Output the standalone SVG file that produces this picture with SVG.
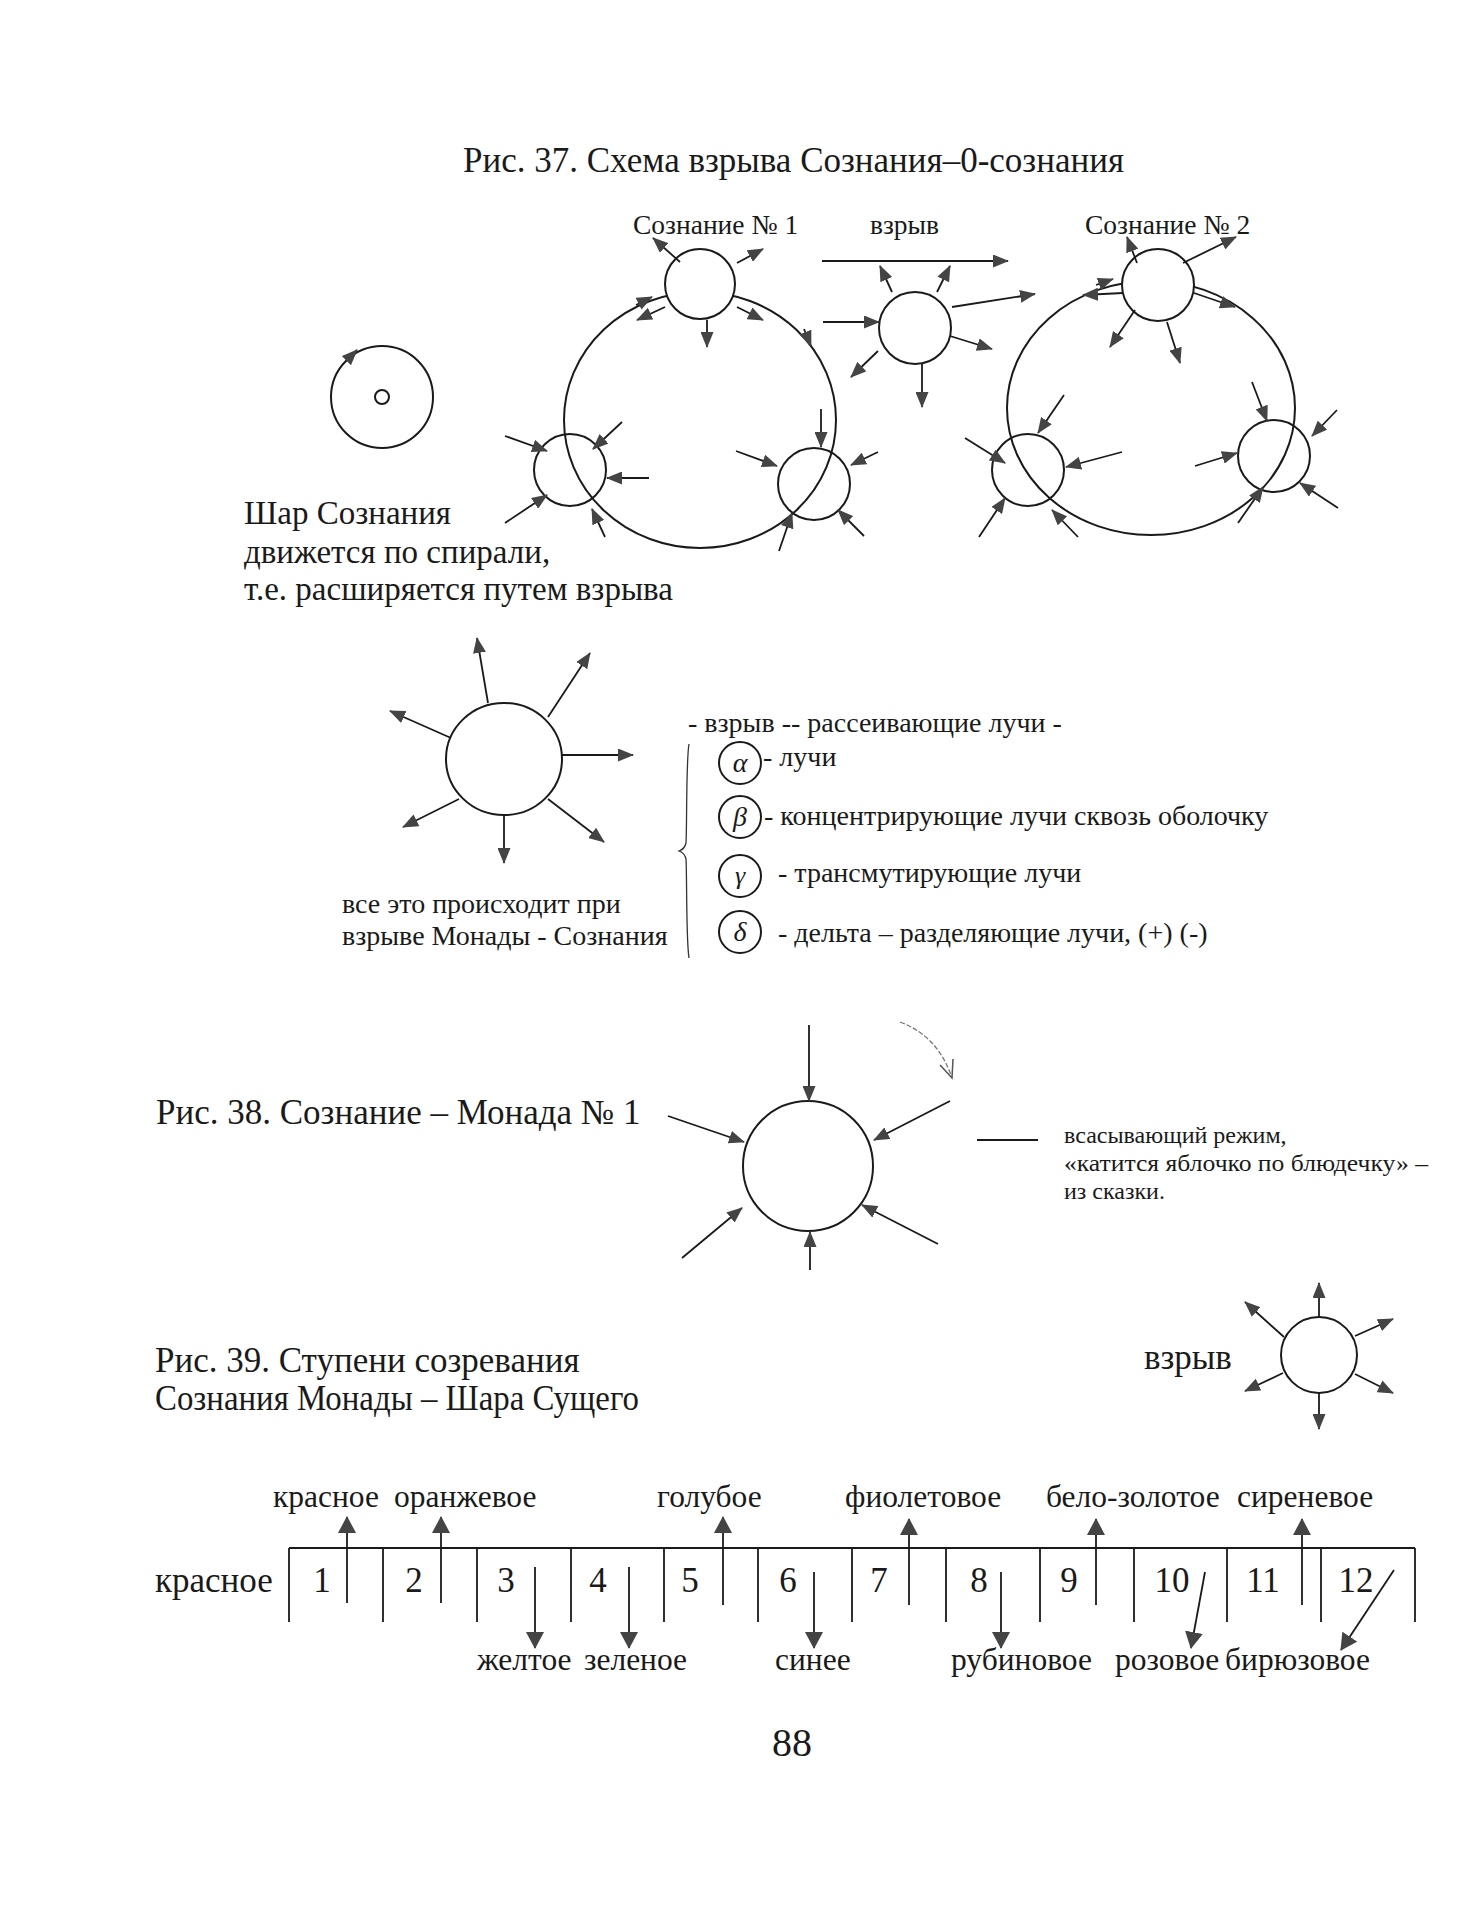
<svg xmlns="http://www.w3.org/2000/svg" width="1482" height="1920" viewBox="0 0 1482 1920">
<defs>
<style>
text{font-family:"Liberation Serif","Times New Roman",serif;fill:#1a1a1a}
.ln{stroke:#1a1a1a;stroke-width:1.8;fill:none}
.c{stroke:#1a1a1a;stroke-width:2;fill:none}
.cw{stroke:#1a1a1a;stroke-width:2;fill:#fff}
.a{stroke:#1a1a1a;stroke-width:1.8;fill:none;marker-end:url(#ah)}
.aL{stroke:#1a1a1a;stroke-width:1.8;fill:none;marker-end:url(#ahL)}
.t35{font-size:35px}
.t33{font-size:33px}
.t31{font-size:31.5px}
.t28{font-size:28px}
.t27{font-size:27.5px}
.t25{font-size:24px}
</style>
<marker id="ah" viewBox="0 0 16 13" refX="15" refY="6.5" markerWidth="16" markerHeight="13" markerUnits="userSpaceOnUse" orient="auto"><path d="M0,0 L16,6.5 L0,13 z" fill="#444"/></marker>
<marker id="ahL" viewBox="0 0 17 18" refX="16" refY="9" markerWidth="17" markerHeight="18" markerUnits="userSpaceOnUse" orient="auto"><path d="M0,0 L17,9 L0,18 z" fill="#444"/></marker>
</defs>
<rect width="1482" height="1920" fill="#fff"/>

<!-- Figure 37 -->
<text id="title37" class="t35" x="463" y="172">Рис. 37. Схема взрыва Сознания–0-сознания</text>

<g id="shar">
<circle class="c" cx="382" cy="397" r="51"/>
<circle class="c" cx="382" cy="397" r="7"/>
</g>
<g id="shar-label">
<text class="t33" x="244" y="524">Шар Сознания</text>
<text class="t33" x="244" y="563">движется по спирали,</text>
<text class="t33" x="244" y="600">т.е. расширяется путем взрыва</text>
</g>

<g id="orbit1"><ellipse class="c" cx="700" cy="420" rx="136" ry="128"/></g>
<g id="orbit2"><ellipse class="c" cx="1151" cy="408" rx="144" ry="127"/></g>

<g id="c1-top"><circle class="cw" cx="700" cy="284" r="35"/></g>
<g id="c1-ll"><circle class="c" cx="570" cy="470" r="36"/></g>
<g id="c1-lr"><circle class="c" cx="814" cy="484" r="36"/></g>
<g id="mid"><circle class="c" cx="915" cy="328" r="36"/></g>
<g id="c2-top"><circle class="cw" cx="1158" cy="285" r="36"/></g>
<g id="c2-ll"><circle class="c" cx="1028" cy="470" r="36"/></g>
<g id="c2-lr"><circle class="c" cx="1274" cy="456" r="36"/></g>

<g id="labels37">
<text class="t27" x="633" y="234">Сознание № 1</text>
<text class="t27" x="870" y="234">взрыв</text>
<text class="t27" x="1085" y="234">Сознание № 2</text>
</g>

<g id="connectors37">
<path class="a" d="M346,361 L357,350"/>
<path class="a" d="M680,262 L653,238"/>
<path class="a" d="M737,263 L763,249"/>
<path class="a" d="M707,320 L707,347"/>
<path class="a" d="M665,307 L637,320"/>
<path class="a" d="M737,307 L763,320"/>
<path class="a" d="M636,305 L652,297"/>
<path class="a" d="M804,329 L811,346"/>
<path class="a" d="M505,436 L547,451"/>
<path class="a" d="M622,422 L593,449"/>
<path class="a" d="M649,478 L607,478"/>
<path class="a" d="M505,523 L547,495"/>
<path class="a" d="M605,537 L592,509"/>
<path class="a" d="M736,451 L777,466"/>
<path class="a" d="M821,409 L821,447"/>
<path class="a" d="M878,452 L851,465"/>
<path class="a" d="M779,551 L792,513"/>
<path class="a" d="M864,536 L838,510"/>
<path class="a" d="M822,261 L1008,261"/>
<path class="a" d="M823,322 L879,322"/>
<path class="a" d="M892,292 L880,266"/>
<path class="a" d="M937,292 L950,266"/>
<path class="a" d="M952,307 L1035,294"/>
<path class="a" d="M950,336 L992,349"/>
<path class="a" d="M878,351 L851,377"/>
<path class="a" d="M922,364 L922,407"/>
<path class="a" d="M1137,263 L1127,237"/>
<path class="a" d="M1183,263 L1236,237"/>
<path class="a" d="M1096,285 L1113,279"/>
<path class="a" d="M1123,293 L1083,295"/>
<path class="a" d="M1194,293 L1235,307"/>
<path class="a" d="M1135,310 L1110,347"/>
<path class="a" d="M1167,322 L1180,363"/>
<path class="a" d="M1064,395 L1038,433"/>
<path class="a" d="M965,438 L1005,463"/>
<path class="a" d="M1122,452 L1066,467"/>
<path class="a" d="M979,537 L1005,498"/>
<path class="a" d="M1078,537 L1052,510"/>
<path class="a" d="M1252,382 L1267,421"/>
<path class="a" d="M1195,466 L1237,453"/>
<path class="a" d="M1337,410 L1312,436"/>
<path class="a" d="M1338,508 L1300,483"/>
<path class="a" d="M1238,523 L1263,487"/>
</g>

<!-- Explosion star -->
<g id="star"><ellipse class="c" cx="504" cy="759" rx="58" ry="56"/></g>
<g id="connectors-star">
<path class="a" d="M488,703 L477,638"/>
<path class="a" d="M548,717 L590,653"/>
<path class="a" d="M451,738 L390,711"/>
<path class="a" d="M562,755 L633,755"/>
<path class="a" d="M459,799 L403,827"/>
<path class="a" d="M504,815 L504,863"/>
<path class="a" d="M548,799 L604,842"/>
</g>
<g id="star-label">
<text class="t28" x="342" y="913">все это происходит при</text>
<text class="t28" x="342" y="945">взрыве Монады - Сознания</text>
</g>
<g id="brace"><path d="M689,744 C686,760 687,830 686,843 C685,848 682,850 679,851 C682,852 685,854 686,859 C687,872 686,940 689,958" stroke="#333" stroke-width="1.3" fill="none"/></g>
<g id="legend">
<text class="t28" x="688" y="732">- взрыв -- рассеивающие лучи -</text>
<g id="alpha"><circle class="c" cx="740" cy="763" r="21"/><text x="740" y="772" font-size="28" font-style="italic" text-anchor="middle">α</text></g>
<text class="t28" x="763" y="766">- лучи</text>
<g id="beta"><circle class="c" cx="740" cy="817" r="21"/><text x="740" y="826" font-size="28" font-style="italic" text-anchor="middle">β</text></g>
<text class="t28" x="764" y="825">- концентрирующие лучи сквозь оболочку</text>
<g id="gamma"><circle class="c" cx="740" cy="876" r="21"/><text x="740" y="884" font-size="26" font-style="italic" text-anchor="middle">γ</text></g>
<text class="t28" x="778" y="882">- трансмутирующие лучи</text>
<g id="delta"><circle class="c" cx="740" cy="932" r="21"/><text x="740" y="941" font-size="28" font-style="italic" text-anchor="middle">δ</text></g>
<text class="t28" x="778" y="942">- дельта – разделяющие лучи, (+) (-)</text>
</g>

<!-- Figure 38 -->
<text id="title38" class="t35" x="156" y="1124">Рис. 38. Сознание – Монада № 1</text>
<g id="monad"><circle class="c" cx="808" cy="1166" r="65"/></g>
<g id="connectors38">
<path class="a" d="M809,1025 L809,1101"/>
<path class="a" d="M668,1116 L744,1142"/>
<path class="a" d="M950,1101 L874,1140"/>
<path class="a" d="M682,1258 L742,1208"/>
<path class="a" d="M810,1270 L810,1232"/>
<path class="a" d="M938,1244 L862,1205"/>
<path d="M900,1022 Q938,1036 952,1078" stroke="#777" stroke-width="1.3" fill="none" stroke-dasharray="5 2"/>
<path d="M940,1065 L952,1078 L953,1059" stroke="#555" stroke-width="1.5" fill="none"/>
<path class="ln" d="M977,1140 L1038,1140"/>
</g>
<g id="monad-label">
<text class="t25" x="1064" y="1143">всасывающий режим,</text>
<text class="t25" x="1064" y="1171" textLength="364" lengthAdjust="spacingAndGlyphs">«катится яблочко по блюдечку» –</text>
<text class="t25" x="1064" y="1199">из сказки.</text>
</g>

<!-- Figure 39 -->
<g id="title39">
<text class="t35" x="155" y="1372">Рис. 39. Ступени созревания</text>
<text class="t35" x="155" y="1410" textLength="484" lengthAdjust="spacingAndGlyphs">Сознания Монады – Шара Сущего</text>
</g>
<text id="vzryv39" class="t35" x="1144" y="1369">взрыв</text>
<g id="ball39"><circle class="c" cx="1319" cy="1355" r="38"/></g>
<g id="connectors-ball39">
<path class="a" d="M1319,1317 L1319,1283"/>
<path class="a" d="M1284,1337 L1245,1302"/>
<path class="a" d="M1355,1336 L1393,1319"/>
<path class="a" d="M1283,1373 L1245,1391"/>
<path class="a" d="M1355,1374 L1393,1393"/>
<path class="a" d="M1319,1393 L1319,1429"/>
</g>

<g id="scale">
<path class="ln" d="M289,1548 L1415,1548"/>
<path class="ln" d="M289,1548 V1622 M383,1548 V1622 M477,1548 V1622 M571,1548 V1622 M664,1548 V1622 M758,1548 V1622 M852,1548 V1622 M946,1548 V1622 M1040,1548 V1622 M1134,1548 V1622 M1227,1548 V1622 M1321,1548 V1622 M1415,1548 V1622"/>
<g class="t35" text-anchor="middle">
<text x="322" y="1592">1</text>
<text x="414" y="1592">2</text>
<text x="506" y="1592">3</text>
<text x="598" y="1592">4</text>
<text x="690" y="1592">5</text>
<text x="788" y="1592">6</text>
<text x="879" y="1592">7</text>
<text x="979" y="1592">8</text>
<text x="1069" y="1592">9</text>
<text x="1172" y="1592">10</text>
<text x="1263" y="1592">11</text>
<text x="1356" y="1592">12</text>
</g>
<text class="t35" x="155" y="1592">красное</text>
</g>
<g id="connectors39">
<path class="aL" d="M347,1603 L347,1517"/>
<path class="aL" d="M441,1603 L441,1517"/>
<path class="aL" d="M723,1605 L723,1517"/>
<path class="aL" d="M909,1605 L909,1519"/>
<path class="aL" d="M1096,1605 L1096,1519"/>
<path class="aL" d="M1302,1605 L1302,1519"/>
<path class="aL" d="M535,1567 L535,1648"/>
<path class="aL" d="M629,1567 L629,1648"/>
<path class="aL" d="M814,1572 L814,1648"/>
<path class="aL" d="M1001,1572 L1001,1648"/>
<path class="aL" d="M1205,1572 L1191,1648"/>
<path class="aL" d="M1394,1570 L1341,1650"/>
</g>
<g id="labels39">
<text class="t31" x="273" y="1507">красное</text>
<text class="t31" x="394" y="1507">оранжевое</text>
<text class="t31" x="657" y="1507">голубое</text>
<text class="t31" x="845" y="1507">фиолетовое</text>
<text class="t31" x="1046" y="1507">бело-золотое</text>
<text class="t31" x="1237" y="1507">сиреневое</text>
<text class="t31" x="477" y="1670">желтое</text>
<text class="t31" x="584" y="1670">зеленое</text>
<text class="t31" x="775" y="1670">синее</text>
<text class="t31" x="951" y="1670">рубиновое</text>
<text class="t31" x="1115" y="1670">розовое</text>
<text class="t31" x="1225" y="1670">бирюзовое</text>
</g>

<text id="page" x="772" y="1756" font-size="40">88</text>
</svg>
